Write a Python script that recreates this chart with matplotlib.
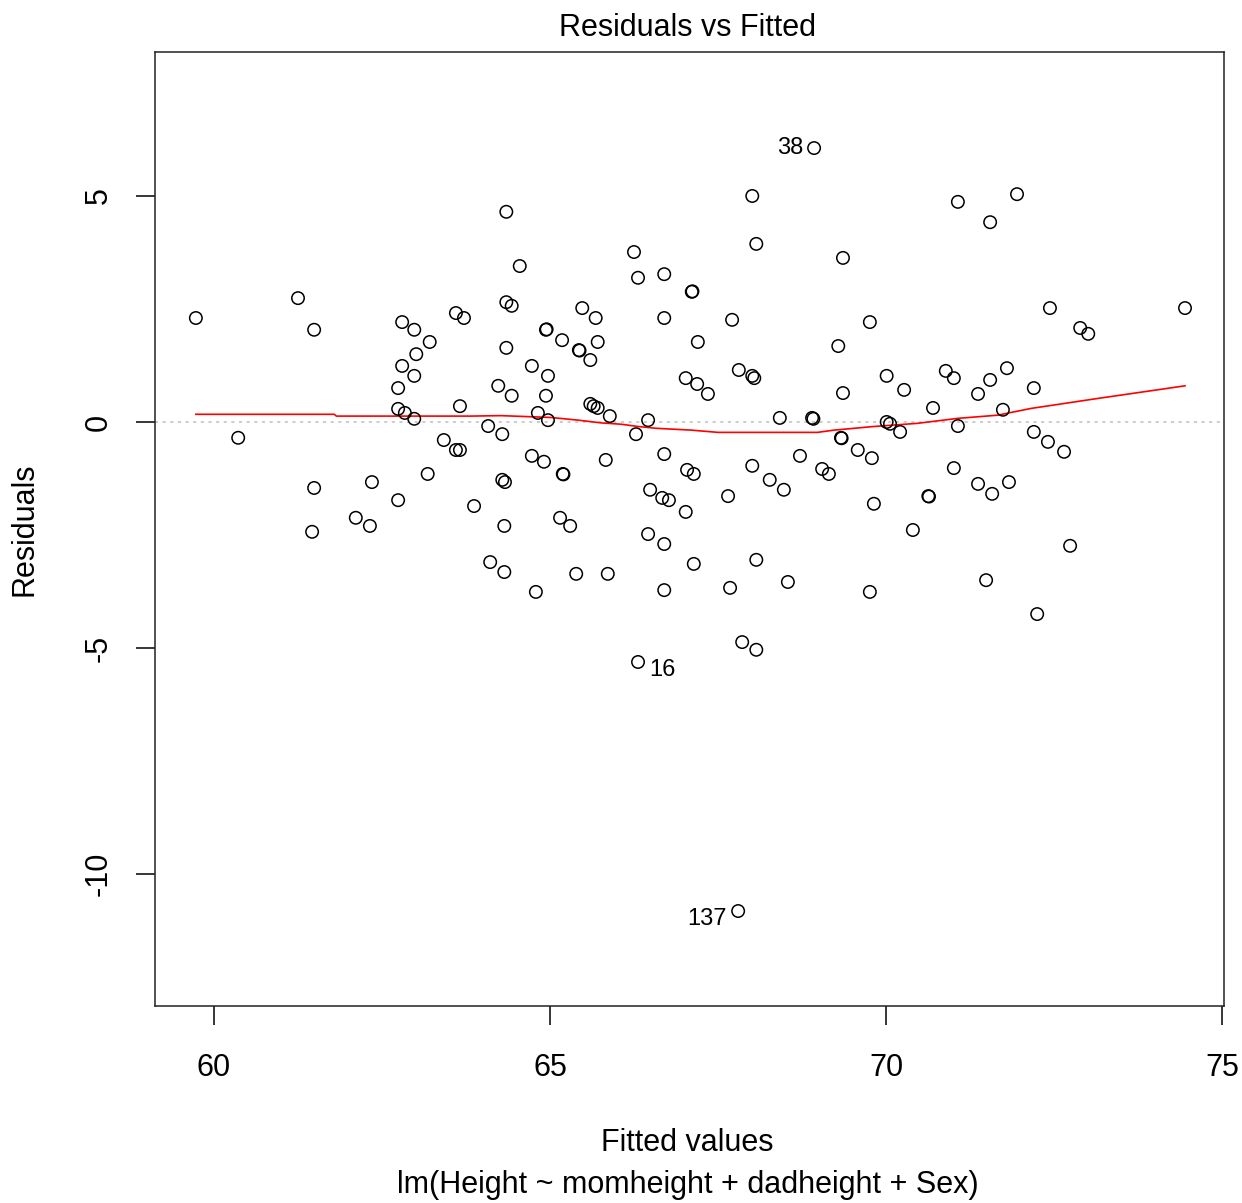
import matplotlib
matplotlib.use("Agg")
import matplotlib.pyplot as plt

plt.rcParams['font.family'] = ['Liberation Sans', 'DejaVu Sans']

# fitted values and residuals
fitted = [
    59.73, 60.36, 61.25, 61.49, 61.49, 61.46, 62.11, 62.32, 62.35, 62.74,
    62.74, 62.80, 62.98, 62.80, 63.01, 62.98, 63.21, 62.74, 62.84, 62.98,
    63.18, 63.42, 63.60, 63.66, 63.60, 63.72, 63.66, 63.87, 64.08, 64.11,
    64.23, 64.29, 64.29, 64.33, 64.32, 64.32, 64.35, 64.35, 64.43, 64.35,
    64.43, 64.55, 64.73, 64.73, 64.79, 64.82, 64.94, 64.95, 64.94, 64.97,
    64.97, 64.91, 65.18, 65.15, 65.19, 65.20, 65.30, 65.39, 65.43, 65.44,
    65.48, 65.60, 65.68, 65.71, 65.60, 65.65, 65.71, 65.89, 65.83, 65.86,
    66.25, 66.31, 66.28, 66.46, 66.49, 66.46, 66.31, 66.70, 66.70, 66.70,
    66.67, 66.77, 66.70, 66.70, 67.11, 67.12, 67.20, 67.02, 67.19, 67.35,
    67.04, 67.14, 67.02, 67.14, 67.71, 67.81, 68.01, 68.04, 68.01, 68.07,
    67.65, 68.01, 68.27, 68.48, 68.07, 67.68, 67.86, 68.07, 67.80, 68.54,
    68.42, 68.93, 68.72, 68.90, 68.92, 69.05, 69.15, 69.33, 69.34, 69.36,
    69.29, 69.36, 69.58, 69.76, 69.79, 69.82, 69.76, 70.01, 70.01, 70.06,
    70.21, 70.27, 70.40, 70.63, 70.64, 70.70, 70.89, 71.01, 71.07, 71.07,
    71.01, 71.37, 71.55, 71.80, 71.74, 71.37, 71.58, 71.83, 71.55, 71.95,
    71.49, 72.20, 72.20, 72.41, 72.65, 72.44, 72.89, 73.01, 72.74, 72.25,
    74.45,
]
residuals = [
    2.30, -0.35, 2.74, 2.04, -1.46, -2.43, -2.12, -2.30, -1.33, -1.73,
    0.75, 2.21, 2.04, 1.24, 1.50, 1.02, 1.77, 0.29, 0.20, 0.07,
    -1.15, -0.40, -0.62, -0.62, 2.41, 2.30, 0.35, -1.86, -0.09, -3.10,
    0.80, -0.27, -1.28, -1.33, -2.30, -3.32, 4.65, 2.65, 2.57, 1.64,
    0.58, 3.45, 1.24, -0.75, -3.76, 0.20, 2.04, 2.05, 0.58, 1.02,
    0.04, -0.88, 1.81, -2.12, -1.15, -1.16, -2.30, -3.36, 1.59, 1.58,
    2.52, 1.37, 2.30, 1.77, 0.40, 0.35, 0.31, 0.13, -0.84, -3.36,
    3.76, 3.19, -0.27, 0.04, -1.50, -2.48, -5.31, 3.27, 2.30, -0.71,
    -1.68, -1.73, -2.70, -3.72, 2.88, 2.89, 1.77, 0.97, 0.84, 0.62,
    -1.06, -1.15, -1.99, -3.14, 2.26, 1.15, 1.02, 0.97, 5.00, 3.94,
    -1.64, -0.97, -1.28, -1.50, -3.05, -3.67, -4.87, -5.04, -10.82, -3.54,
    0.09, 6.06, -0.75, 0.09, 0.07, -1.04, -1.15, -0.35, -0.36, 3.63,
    1.68, 0.64, -0.62, 2.21, -0.80, -1.81, -3.76, 1.02, 0.00, -0.04,
    -0.22, 0.71, -2.39, -1.64, -1.65, 0.31, 1.13, 0.97, 4.87, -0.09,
    -1.02, 0.62, 0.93, 1.19, 0.27, -1.37, -1.59, -1.33, 4.42, 5.04,
    -3.50, 0.75, -0.22, -0.44, -0.66, 2.52, 2.08, 1.95, -2.74, -4.25,
    2.52,
]

# lowess smoother (red line)
smooth_x = [59.73, 61.79, 61.82, 63.82, 64.27, 65.01, 65.42, 65.76, 66.06, 66.31,
            66.58, 67.10, 67.50, 68.98, 69.23, 69.82, 70.47, 71.07, 71.66, 72.16,
            73.15, 74.45]
smooth_y = [0.17, 0.17, 0.13, 0.13, 0.14, 0.10, 0.04, -0.02, -0.05, -0.10,
            -0.14, -0.18, -0.23, -0.23, -0.18, -0.10, -0.03, 0.08, 0.15, 0.30,
            0.52, 0.80]

# labelled outliers: (id, fitted, residual, side)
outliers = [("38", 68.93, 6.06, "left"), ("16", 66.31, -5.31, "right"),
            ("137", 67.80, -10.82, "left")]

xticks = [60, 65, 70, 75]
yticks = [-10, -5, 0, 5]

fig = plt.figure(figsize=(12.42, 12.03), dpi=100)
ax = fig.add_axes([0.1248, 0.1638, 0.8607, 0.7930])

ax.axhline(0, color='#bebebe', lw=1.1, ls=(0, (2, 3)), zorder=1)
ax.scatter(fitted, residuals, s=80, facecolors='none', edgecolors='black',
           linewidths=1.1, zorder=3)
ax.plot(smooth_x, smooth_y, color='red', lw=1.2, zorder=2)

for lab, x, y, side in outliers:
    dy = 0 if lab == "38" else -6
    if side == "left":
        ax.annotate(lab, (x, y), xytext=(-8, dy), textcoords='offset points',
                    ha='right', va='center', fontsize=17)
    else:
        ax.annotate(lab, (x, y), xytext=(8, dy), textcoords='offset points',
                    ha='left', va='center', fontsize=17)

ax.set_xlim(59.122, 75.03)
ax.set_ylim(-12.92, 8.186)
ax.set_xticks(xticks)
ax.set_yticks(yticks)
ax.set_xticklabels([str(t) for t in xticks])
ax.set_yticklabels([str(t) for t in yticks], rotation=90, va='center')
ax.tick_params(axis='both', length=14, width=1.1, labelsize=22, direction='out')
ax.tick_params(axis='x', pad=20)
ax.tick_params(axis='y', pad=16)
for sp in ax.spines.values():
    sp.set_linewidth(1.1)
    sp.set_color('#222222')

fig.text(0.5537, 0.9767, "Residuals vs Fitted", ha='center', va='center', fontsize=22)
fig.text(0.5537, 0.0499, "Fitted values", ha='center', va='center', fontsize=22)
fig.text(0.5537, 0.0150, "lm(Height ~ momheight + dadheight + Sex)",
         ha='center', va='center', fontsize=22)
fig.text(0.0201, 0.5603, "Residuals", ha='center', va='center', rotation=90, fontsize=22)

fig.savefig("out.png", dpi=100)
